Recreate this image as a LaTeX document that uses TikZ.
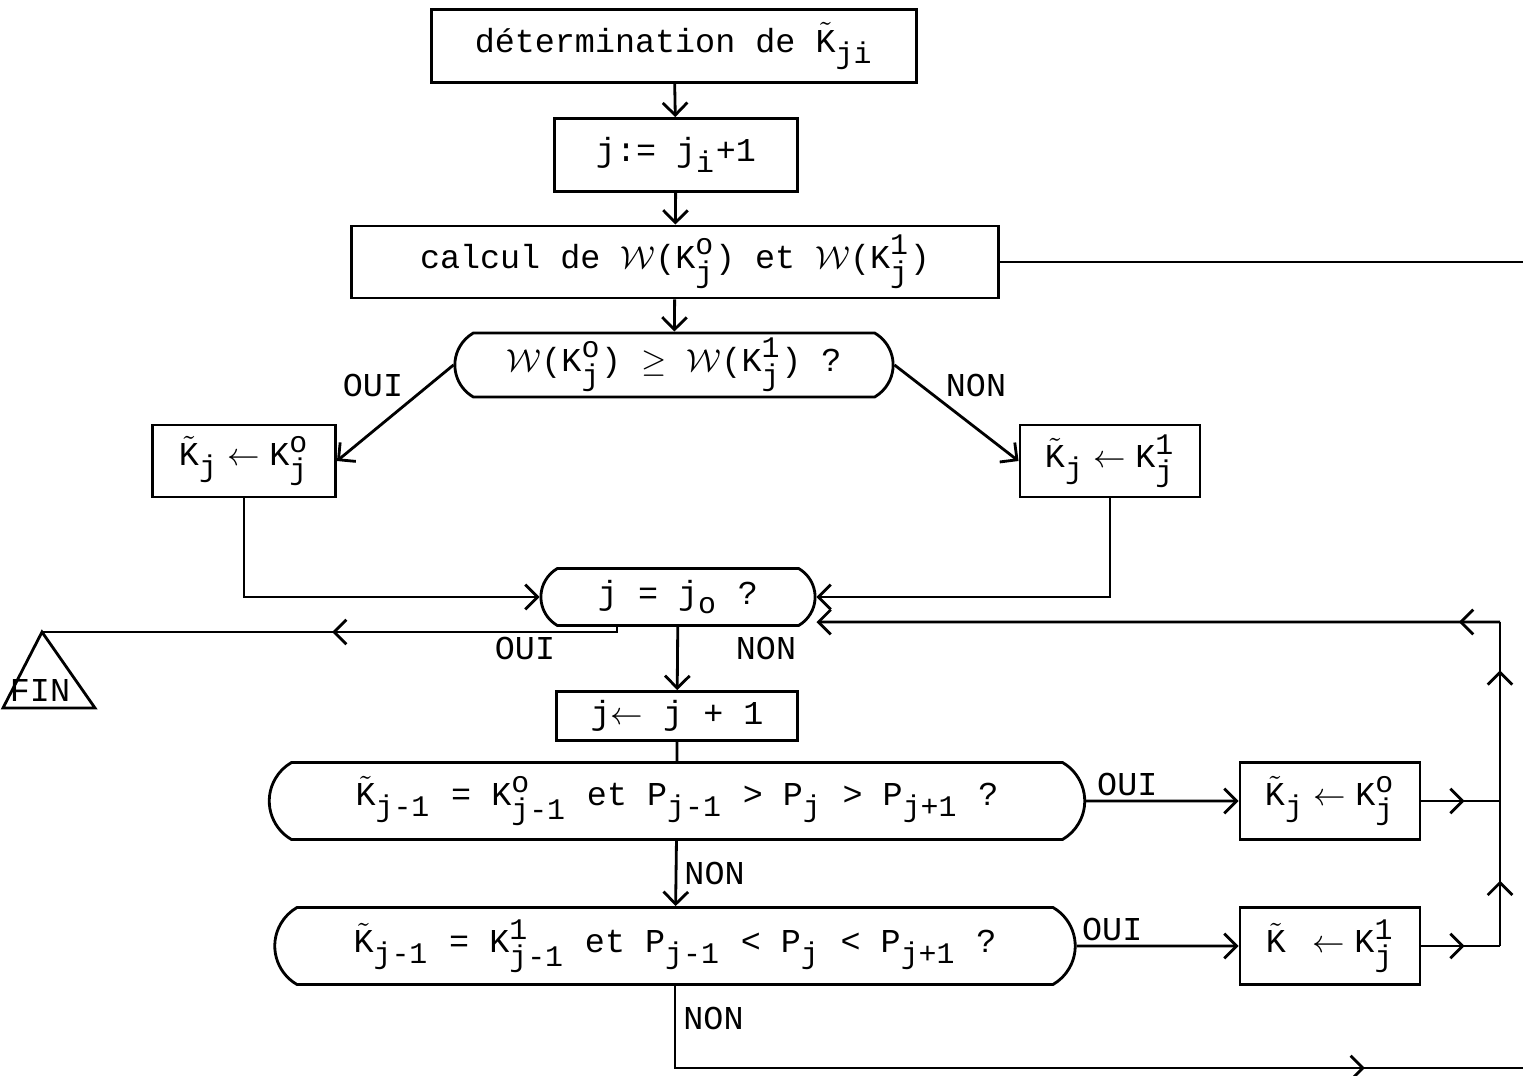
\documentclass[tikz,border=0pt]{standalone}
\usepackage{fontspec}
\setmonofont{Liberation Mono}
\usetikzlibrary{positioning, arrows.meta, shapes.misc, decorations.markings}

\newcommand{\tx}[1]{\hbox{\ttfamily #1}}
\newcommand{\sx}[1]{\hbox{\ttfamily\fontsize{8.5}{9}\selectfont #1}}
\newcommand{\Kv}[2]{\tx{K}^{\sx{#1}}_{\sx{#2}}}
\newcommand{\Kt}[1]{\tilde{\tx{K}}_{\sx{#1}}}
\newcommand{\Pv}[1]{\tx{P}_{\sx{#1}}}

\begin{document}
\begin{tikzpicture}[
  x=0.01cm, y=-0.01cm, line width=0.8pt,
  every node/.style={font=\ttfamily\fontsize{9.5}{11}\selectfont},
  box/.style={draw, inner sep=0pt},
  test/.style={draw, rounded rectangle, rounded rectangle arc length=120, inner sep=0pt},
  arr/.style={-{Straight Barb[length=3.5pt,width=7pt]}},
  midarr/.style={postaction={decorate}, decoration={markings,
    mark=at position #1 with {\arrow{Straight Barb[length=3.5pt,width=7pt]}}}},
]
\useasboundingbox (0,0) rectangle (1523,1076);

\node[box, minimum width=4.85cm, minimum height=0.73cm] (det) at (674,46) {détermination de $\Kt{ji}$};
\node[box, minimum width=2.43cm, minimum height=0.73cm] (init) at (676,155) {j:= $\tx{j}_{\sx{i}}$+1};
\node[box, minimum width=6.46cm, minimum height=0.72cm] (calc) at (675,262) {calcul de $\mathcal{W}\tx{(}\Kv{o}{j}\tx{)}$ et $\mathcal{W}\tx{(}\Kv{1}{j}\tx{)}$};
\node[test, minimum width=4.38cm, minimum height=0.64cm] (cmp) at (674,365) {$\mathcal{W}\tx{(}\Kv{o}{j}\tx{)}$ $\geq$ $\mathcal{W}\tx{(}\Kv{1}{j}\tx{)}$ ?};
\node[box, minimum width=1.83cm, minimum height=0.72cm] (set0) at (244,461) {$\Kt{j}\leftarrow\Kv{o}{j}$};
\node[box, minimum width=1.80cm, minimum height=0.72cm] (set1) at (1110,461) {$\Kt{j}\leftarrow\Kv{1}{j}$};
\node[test, minimum width=2.74cm, minimum height=0.57cm] (last) at (678,597) {j = $\tx{j}_{\sx{o}}$ ?};
\coordinate (fin) at (42,632);
\draw (fin) -- (3,708) -- (95,708) -- cycle;
\node (fintxt) at (40,690) {FIN};
\node[box, minimum width=2.41cm, minimum height=0.49cm] (incr) at (677,716) {j$\leftarrow$ j + 1};
\node[test, minimum width=8.15cm, minimum height=0.77cm] (desc) at (677,801) {$\Kt{j-1}$ = $\Kv{o}{j-1}$ et $\Pv{j-1}$ > $\Pv{j}$ > $\Pv{j+1}$ ?};
\node[box, minimum width=1.80cm, minimum height=0.77cm] (up0) at (1330,801) {$\Kt{j}\leftarrow\Kv{o}{j}$};
\node[test, minimum width=8.00cm, minimum height=0.77cm] (asc) at (675,946) {$\Kt{j-1}$ = $\Kv{1}{j-1}$ et $\Pv{j-1}$ < $\Pv{j}$ < $\Pv{j+1}$ ?};
\node[box, minimum width=1.80cm, minimum height=0.77cm] (up1) at (1330,946) {$\tilde{\tx{K}}\;\;\leftarrow\Kv{1}{j}$};
\coordinate (outcalc) at (1523,262);
\coordinate (r0) at (1500,801);
\coordinate (r1) at (1500,946);
\coordinate (rtop) at (1500,622);
\coordinate (out) at (1523,1068);

\draw[arr] (det) -- (init);
\draw[arr] (init) -- (calc);
\draw (calc) -- (outcalc);
\draw[arr] (calc) -- (cmp);
\draw[arr] (cmp.west) -- (set0.east);
\draw[arr] (cmp.east) -- (set1.west);
\node (oui1) at (373,385) {OUI};
\node (non1) at (976,385) {NON};
\draw[arr] (set0.south) |- (last.west);
\draw[arr] (set1.south) |- (last.east);
\draw[midarr=0.5] ([xshift=-0.61cm]last.south) |- (fin);
\node (oui2) at (525,648) {OUI};
\node (non2) at (766,648) {NON};
\draw[arr] (last) -- (incr);
\draw (incr) -- (desc);
\draw[arr] (desc) -- node[right, inner sep=2pt] (non3) {NON} (asc);
\draw[arr] (desc) -- node[pos=0.27, above, inner sep=1pt] (oui3) {OUI} (up0);
\draw[arr] (asc) -- node[pos=0.22, above, inner sep=1pt] (oui4) {OUI} (up1);
\draw[midarr=0.55] (up0) -- (r0);
\draw[midarr=0.55] (up1) -- (r1);
\draw[midarr=0.45] (r1) -- (r0);
\draw[midarr=0.73] (r0) -- (rtop);
\draw[arr, midarr=0.06] (rtop) -- ([yshift=-0.25cm]last.east);
\draw[midarr=0.83] (asc.south) |- node[pos=0.2, right, inner sep=2pt] (non4) {NON} (out);
\end{tikzpicture}
\end{document}
